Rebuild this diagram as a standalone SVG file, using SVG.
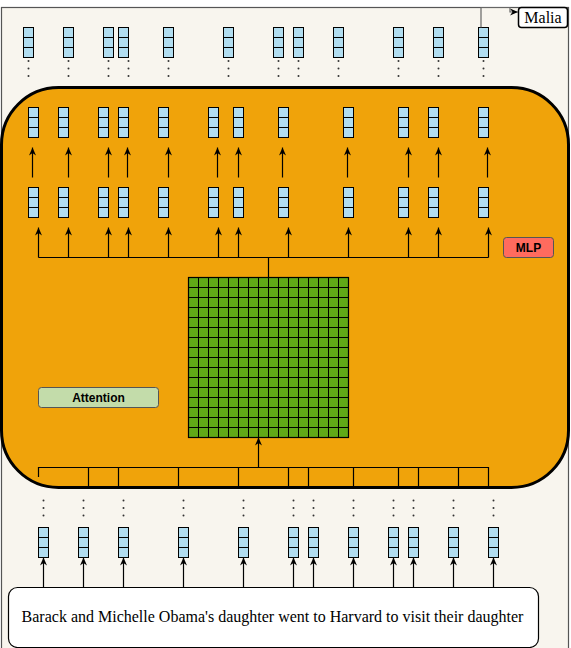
<svg xmlns="http://www.w3.org/2000/svg" xmlns:xlink="http://www.w3.org/1999/xlink" width="571" height="648" viewBox="0 0 571 648">
<style>
.cell{fill:#b1ddf0;stroke:#000;stroke-width:1}
.ln{stroke:#000;stroke-width:1.2;fill:none}
.arr{stroke:#000;stroke-width:1.2;fill:none;marker-end:url(#ah)}
.dot{fill:#333}
.lbl{font-family:"Liberation Sans",Arial,sans-serif;font-weight:bold;font-size:12px;text-anchor:middle;dominant-baseline:central}
.ser{font-family:"Liberation Serif","Times New Roman",serif;text-anchor:middle;dominant-baseline:central}
</style>
<defs>
<marker id="ah" viewBox="0 0 8 7" refX="8" refY="3.5" markerWidth="8" markerHeight="7" markerUnits="userSpaceOnUse" orient="auto">
<path d="M0,0 L8,3.5 L0,7 L2.5,3.5 z" fill="#000"/>
</marker>
<g id="vec">
<rect class="cell" x="0" y="0" width="10" height="10"/>
<rect class="cell" x="0" y="10" width="10" height="10"/>
<rect class="cell" x="0" y="20" width="10" height="10"/>
</g>
<g id="dots">
<circle class="dot" cx="0" cy="0" r="1"/>
<circle class="dot" cx="0" cy="7.5" r="1"/>
<circle class="dot" cx="0" cy="15" r="1"/>
</g>
</defs>

<rect id="frame" x="1.5" y="7.5" width="567" height="645" fill="#f8f5ee" stroke="#555" stroke-width="1.2"/>

<g id="block">
<rect x="1.5" y="87.5" width="567" height="400" rx="57" ry="57" fill="#f0a30a" stroke="#000" stroke-width="3"/>
</g>

<g id="top-vectors">
<use xlink:href="#vec" x="23.5" y="27.5"/><use xlink:href="#vec" x="63.5" y="27.5"/><use xlink:href="#vec" x="103.5" y="27.5"/><use xlink:href="#vec" x="118.5" y="27.5"/><use xlink:href="#vec" x="163.5" y="27.5"/><use xlink:href="#vec" x="223.5" y="27.5"/><use xlink:href="#vec" x="273.5" y="27.5"/><use xlink:href="#vec" x="293.5" y="27.5"/><use xlink:href="#vec" x="333.5" y="27.5"/><use xlink:href="#vec" x="393.5" y="27.5"/><use xlink:href="#vec" x="433.5" y="27.5"/><use xlink:href="#vec" x="478.5" y="27.5"/>
<use xlink:href="#dots" x="28.5" y="61"/><use xlink:href="#dots" x="68.5" y="61"/><use xlink:href="#dots" x="108.5" y="61"/><use xlink:href="#dots" x="128.5" y="61"/><use xlink:href="#dots" x="168.5" y="61"/><use xlink:href="#dots" x="228.5" y="61"/><use xlink:href="#dots" x="278.5" y="61"/><use xlink:href="#dots" x="298.5" y="61"/><use xlink:href="#dots" x="338.5" y="61"/><use xlink:href="#dots" x="398.5" y="61"/><use xlink:href="#dots" x="438.5" y="61"/><use xlink:href="#dots" x="483.5" y="61"/>
</g>

<g id="mlp-out">
<use xlink:href="#vec" x="28.5" y="107.5"/><use xlink:href="#vec" x="58.5" y="107.5"/><use xlink:href="#vec" x="98.5" y="107.5"/><use xlink:href="#vec" x="118.5" y="107.5"/><use xlink:href="#vec" x="158.5" y="107.5"/><use xlink:href="#vec" x="208.5" y="107.5"/><use xlink:href="#vec" x="233.5" y="107.5"/><use xlink:href="#vec" x="278.5" y="107.5"/><use xlink:href="#vec" x="343.5" y="107.5"/><use xlink:href="#vec" x="398.5" y="107.5"/><use xlink:href="#vec" x="428.5" y="107.5"/><use xlink:href="#vec" x="478.5" y="107.5"/>
</g>

<g id="attn-out">
<use xlink:href="#vec" x="28.5" y="187.5"/><use xlink:href="#vec" x="58.5" y="187.5"/><use xlink:href="#vec" x="98.5" y="187.5"/><use xlink:href="#vec" x="118.5" y="187.5"/><use xlink:href="#vec" x="158.5" y="187.5"/><use xlink:href="#vec" x="208.5" y="187.5"/><use xlink:href="#vec" x="233.5" y="187.5"/><use xlink:href="#vec" x="278.5" y="187.5"/><use xlink:href="#vec" x="343.5" y="187.5"/><use xlink:href="#vec" x="398.5" y="187.5"/><use xlink:href="#vec" x="428.5" y="187.5"/><use xlink:href="#vec" x="478.5" y="187.5"/>
</g>

<g id="attention-matrix">
<rect x="188.5" y="277.5" width="160" height="160" fill="#60a917" stroke="#000" stroke-width="1.2"/>
<path stroke="#000" stroke-width="1" fill="none" d="M198.5,277.5V437.5M208.5,277.5V437.5M218.5,277.5V437.5M228.5,277.5V437.5M238.5,277.5V437.5M248.5,277.5V437.5M258.5,277.5V437.5M268.5,277.5V437.5M278.5,277.5V437.5M288.5,277.5V437.5M298.5,277.5V437.5M308.5,277.5V437.5M318.5,277.5V437.5M328.5,277.5V437.5M338.5,277.5V437.5M188.5,287.5H348.5M188.5,297.5H348.5M188.5,307.5H348.5M188.5,317.5H348.5M188.5,327.5H348.5M188.5,337.5H348.5M188.5,347.5H348.5M188.5,357.5H348.5M188.5,367.5H348.5M188.5,377.5H348.5M188.5,387.5H348.5M188.5,397.5H348.5M188.5,407.5H348.5M188.5,417.5H348.5M188.5,427.5H348.5"/>
</g>

<g id="mlp-label">
<rect x="503.5" y="237.5" width="50" height="20" rx="3" fill="#ff6b5e" stroke="#555" stroke-width="1"/>
<text class="lbl" x="528.5" y="247.5">MLP</text>
</g>

<g id="attention-label">
<rect x="38.5" y="387.5" width="120" height="20" rx="3" fill="#c3dcaa" stroke="#555" stroke-width="1"/>
<text class="lbl" x="98.5" y="397.5">Attention</text>
</g>

<g id="bottom-vectors">
<use xlink:href="#vec" x="38.5" y="527.5"/><use xlink:href="#vec" x="78.5" y="527.5"/><use xlink:href="#vec" x="118.5" y="527.5"/><use xlink:href="#vec" x="178.5" y="527.5"/><use xlink:href="#vec" x="238.5" y="527.5"/><use xlink:href="#vec" x="288.5" y="527.5"/><use xlink:href="#vec" x="308.5" y="527.5"/><use xlink:href="#vec" x="348.5" y="527.5"/><use xlink:href="#vec" x="388.5" y="527.5"/><use xlink:href="#vec" x="408.5" y="527.5"/><use xlink:href="#vec" x="448.5" y="527.5"/><use xlink:href="#vec" x="488.5" y="527.5"/>
<use xlink:href="#dots" x="43.5" y="500.5"/><use xlink:href="#dots" x="83.5" y="500.5"/><use xlink:href="#dots" x="123.5" y="500.5"/><use xlink:href="#dots" x="183.5" y="500.5"/><use xlink:href="#dots" x="243.5" y="500.5"/><use xlink:href="#dots" x="293.5" y="500.5"/><use xlink:href="#dots" x="313.5" y="500.5"/><use xlink:href="#dots" x="353.5" y="500.5"/><use xlink:href="#dots" x="393.5" y="500.5"/><use xlink:href="#dots" x="413.5" y="500.5"/><use xlink:href="#dots" x="453.5" y="500.5"/><use xlink:href="#dots" x="493.5" y="500.5"/>
</g>

<g id="sentence">
<rect x="8.5" y="587.5" width="530" height="60" rx="9" fill="#fff" stroke="#000" stroke-width="1.2"/>
<text class="ser" x="272.5" y="616.5" font-size="16">Barack and Michelle Obama's daughter went to Harvard to visit their daughter</text>
</g>

<g id="output-malia">
<rect x="518.5" y="7.5" width="49" height="20" rx="3" fill="#fff" stroke="#000" stroke-width="1.5"/>
<text class="ser" x="543" y="17.5" font-size="16">Malia</text>
</g>

<g id="connectors">
<path d="M481,27.5 V7.5 H510 V12 H518" stroke="#666" stroke-width="1.2" fill="none" marker-end="url(#ah)"/>
<path class="arr" d="M32.5,177.5 V147.5" stroke="#7a5206"/>
<path class="arr" d="M68.5,177.5 V147.5"/><path class="arr" d="M108.5,177.5 V147.5"/><path class="arr" d="M127.5,177.5 V147.5"/><path class="arr" d="M168.5,177.5 V147.5"/><path class="arr" d="M217.5,177.5 V147.5"/><path class="arr" d="M238.5,177.5 V147.5"/>
<path class="arr" d="M282.5,177.5 V147.5" stroke="#7a5206"/>
<path class="arr" d="M347.5,177.5 V147.5"/><path class="arr" d="M408.5,177.5 V147.5"/><path class="arr" d="M438.5,177.5 V147.5"/><path class="arr" d="M487.5,177.5 V147.5"/>
<path class="ln" d="M38.5,257.5 H488.5 M268.5,257.5 V277.5"/>
<path class="arr" d="M38.5,257.5 V227.5"/><path class="arr" d="M68.5,257.5 V227.5"/><path class="arr" d="M108.5,257.5 V227.5"/><path class="arr" d="M128.5,257.5 V227.5"/><path class="arr" d="M168.5,257.5 V227.5"/><path class="arr" d="M218.5,257.5 V227.5"/><path class="arr" d="M238.5,257.5 V227.5"/><path class="arr" d="M288.5,257.5 V227.5"/><path class="arr" d="M348.5,257.5 V227.5"/><path class="arr" d="M408.5,257.5 V227.5"/><path class="arr" d="M438.5,257.5 V227.5"/><path class="arr" d="M488.5,257.5 V227.5"/>
<path class="arr" d="M258.5,467.5 V437.5"/>
<path class="ln" d="M38.5,477 V467.5 H488.5 V486 M88.5,467.5 V486 M118.5,467.5 V486 M178.5,467.5 V486 M238.5,467.5 V486 M288.5,467.5 V486 M308.5,467.5 V486 M353.5,467.5 V486 M398.5,467.5 V486 M418.5,467.5 V486 M458.5,467.5 V486"/>
<path class="arr" d="M43.5,587.5 V557.5"/><path class="arr" d="M83.5,587.5 V557.5"/><path class="arr" d="M123.5,587.5 V557.5"/><path class="arr" d="M183.5,587.5 V557.5"/><path class="arr" d="M243.5,587.5 V557.5"/><path class="arr" d="M293.5,587.5 V557.5"/><path class="arr" d="M313.5,587.5 V557.5"/><path class="arr" d="M353.5,587.5 V557.5"/><path class="arr" d="M393.5,587.5 V557.5"/><path class="arr" d="M413.5,587.5 V557.5"/><path class="arr" d="M453.5,587.5 V557.5"/><path class="arr" d="M493.5,587.5 V557.5"/>
</g>
</svg>
